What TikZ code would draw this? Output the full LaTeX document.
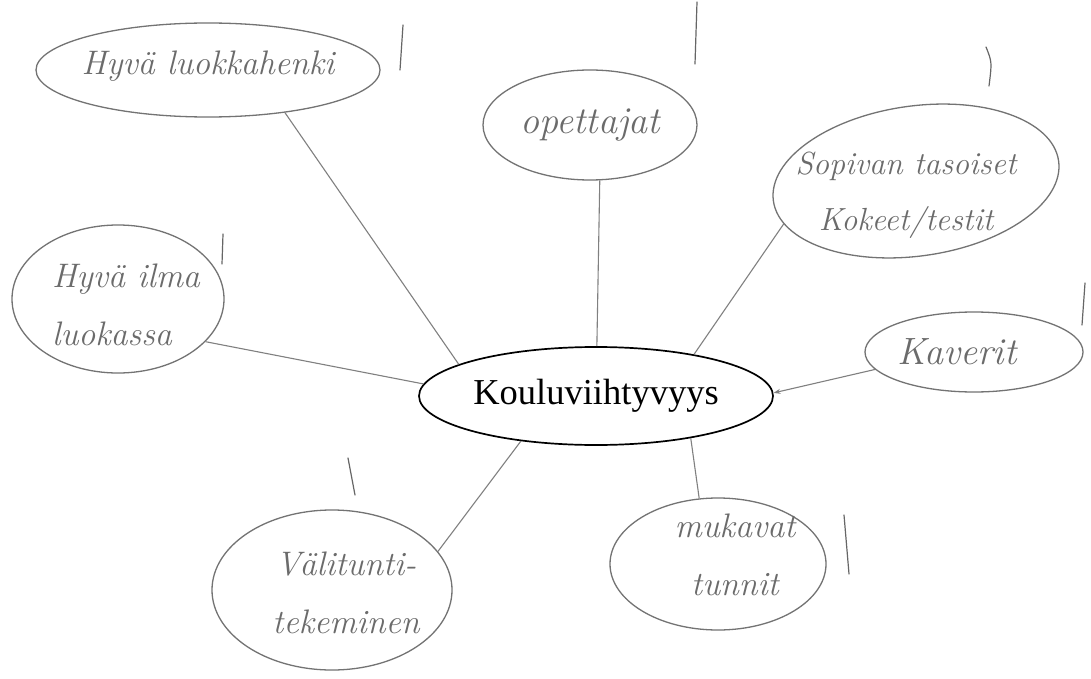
\documentclass[tikz,border=0pt]{standalone}
\usepackage{fontspec}
\newfontfamily\timesf{Liberation Serif}
\usetikzlibrary{shapes.geometric,arrows.meta}
\tikzset{
  bubble/.style={ellipse, draw=black!55, line width=1.3pt, inner sep=0pt},
  hw/.style={text=black!58, font=\fontsize{34}{58}\selectfont\itshape, align=center, inner sep=0pt},
  link/.style={draw=black!50, line width=1.1pt},
  tickmark/.style={draw=black!60, line width=1.2pt, line cap=round},
  core/.style={ellipse, draw=black, line width=1.7pt, inner sep=0pt, font=\timesf\fontsize{36.5}{42}\selectfont}
}
\begin{document}
\begin{tikzpicture}[x=1pt,y=-1pt]
\useasboundingbox[fill=white] (0,0) rectangle (1091,679);

% central node
\node[core, minimum width=354pt, minimum height=98pt] (C) at (596,396) {Kouluviihtyvyys};

% handwritten bubbles
\node[bubble, minimum width=344pt, minimum height=94pt,
      label={[hw, yshift=4pt]center:Hyvä luokkahenki}] (lh) at (208,70) {};
\node[bubble, minimum width=214pt, minimum height=110pt,
      label={[hw, font=\fontsize{38}{50}\selectfont\itshape]center:opettajat}] (op) at (590,125) {};
\node[bubble, rotate=8, minimum width=288pt, minimum height=150pt,
      label={[hw, font=\fontsize{32}{56}\selectfont\itshape, xshift=-10pt, yshift=-14pt]center:Sopivan tasoiset\\Kokeet/testit}] (sp) at (916,181) {};
\node[bubble, minimum width=212pt, minimum height=148pt,
      label={[hw, align=left, xshift=8pt, yshift=-6pt]center:Hyvä ilma\\luokassa}] (il) at (118,299) {};
\node[bubble, minimum width=218pt, minimum height=80pt,
      label={[hw, font=\fontsize{38}{50}\selectfont\itshape, xshift=-17pt]center:Kaverit}] (kv) at (974,352) {};
\node[bubble, minimum width=240pt, minimum height=160pt,
      label={[hw, xshift=14pt, yshift=-3pt]center:Välitunti-\\tekeminen}] (vt) at (332,590) {};
\node[bubble, minimum width=216pt, minimum height=132pt,
      label={[hw, xshift=17pt, yshift=9pt]center:mukavat\\tunnit}] (mt) at (718,564) {};

% connectors
\draw[link] (lh.-29) -- (C.167);
\draw[link] (op.-80) -- (C.89);
\draw[link] (sp.-170) -- (C.23);
\draw[link] (il.-26) -- (C.176);
\draw[link, -{Stealth[length=7pt,width=5pt]}] (kv.-170) -- (C.1);
\draw[link] (vt.20) -- (C.-149);
\draw[link] (mt.106) -- (C.-24);

% tick marks
\draw[tickmark] (403,25) -- (400,70);
\draw[tickmark] (697,2) -- (695,64);
\draw[tickmark] (986,47) .. controls (992,62) .. (989,86);
\draw[tickmark] (223,234) -- (222,264);
\draw[tickmark] (1085,283) -- (1082,325);
\draw[tickmark] (348,458) -- (355,495);
\draw[tickmark] (844,515) -- (849,574);
\end{tikzpicture}
\end{document}
